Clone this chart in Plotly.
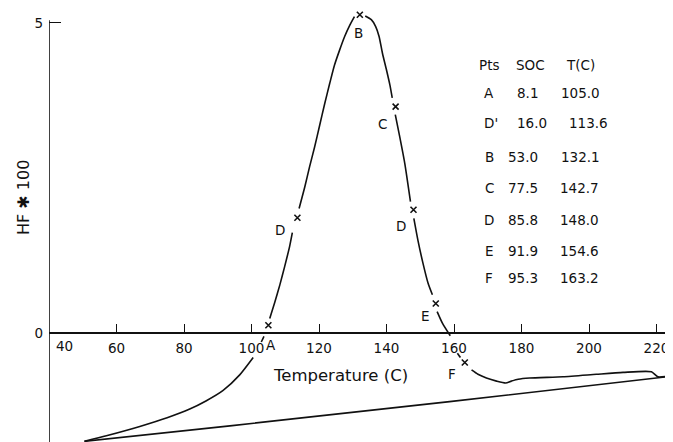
import plotly.graph_objects as go

# ---------------- data ----------------
# table of points (labels, state of charge, temperature)
pts = ["A", "D'", "B", "C", "D", "E", "F"]
soc = ["8.1", "16.0", "53.0", "77.5", "85.8", "91.9", "95.3"]
tc = ["105.0", "113.6", "132.1", "142.7", "148.0", "154.6", "163.2"]
table_header = ["Pts", "SOC", "T(C)"]

# marker points on the curve (HF*100)
marker_labels = ["A", "D", "B", "C", "D", "E", "F"]
marker_HF = [0.13, 1.86, 5.13, 3.65, 1.99, 0.48, -0.47]

# main heat-flow curve (None = pen lifted near markers)
curve_T = [50.5, 57.0, 66.9, 75.0, 81.7, 86.5, 91.6, 96.5, 100.5, None,
           102.9, 103.7, None,
           105.4, 106.9, 108.4, 109.8, 111.3, 112.1, None,
           114.1, 115.8, 117.2, 118.7, 120.2, 121.7, 123.2, 124.6, 126.1, 127.6, 129.1, 130.5, None,
           133.7, 135.5, 136.8, 137.8, 138.8, 140.0, 141.0, 141.7, None,
           142.6, 143.9, 145.4, 147.1, None,
           148.1, 149.3, 150.8, 152.3, 153.6, None,
           155.0, 156.6, 158.9, None,
           161.0, 161.9, None,
           165.2, 167.1, 169.6, 172.6, 175.3, 177.0, 179.0, 182.4, 192.3, 202.2, 210.1, 218.5, 220.4, 224.8]
curve_HF = [-1.74, -1.65, -1.50, -1.36, -1.22, -1.09, -0.92, -0.67, -0.39, None,
            -0.14, -0.05, None,
            0.24, 0.50, 0.78, 1.07, 1.40, 1.62, None,
            2.01, 2.36, 2.68, 3.00, 3.35, 3.70, 4.03, 4.32, 4.56, 4.78, 4.96, 5.10, None,
            5.11, 5.05, 4.94, 4.78, 4.51, 4.24, 4.00, 3.79, None,
            3.52, 3.17, 2.74, 2.12, None,
            1.85, 1.50, 1.13, 0.81, 0.62, None,
            0.35, 0.16, -0.04, None,
            -0.32, -0.39, None,
            -0.59, -0.66, -0.72, -0.77, -0.80, -0.77, -0.74, -0.72, -0.70, -0.66, -0.63, -0.62, -0.70, -0.68]

# return (baseline) line
base_T = [224.8, 158.7, 93.6, 50.5]
base_HF = [-0.69, -1.10, -1.49, -1.74]

x_ticks = [60, 80, 100, 120, 140, 160, 180, 200, 220]
y_ticks = [0, 5]

# ---------------- layout geometry ----------------
# the page body adds an 8 px offset; the figure is sized so that the
# plot area lands at x = 49..673, y = 0..442 of the window
OFF = 8
WIN_W, WIN_H = 673, 442
L_WIN = 49                      # y axis x position in window pixels
W, H = WIN_W - OFF, WIN_H - OFF
L = L_WIN - OFF
PX_PER_C = 3.375
PX_PER_HF = 62.1
Y0_WIN = 333.3                  # window pixel row of HF = 0
X_RANGE = [40, 40 + (W - L) / PX_PER_C]
Y_RANGE = [-(WIN_H - Y0_WIN) / PX_PER_HF, (Y0_WIN - OFF) / PX_PER_HF]
FONT = "DejaVu Sans"
INK = "#111111"


def px(x):  # window pixel x -> paper
    return (x - OFF - L) / (W - L)


def py(y):  # window pixel y -> paper
    return 1 - (y - OFF) / H


def text_at(x, y, txt, size, **kw):
    return dict(x=px(x), y=py(y), xref="paper", yref="paper", text=txt, showarrow=False,
                xanchor="center", yanchor="middle",
                font=dict(family=FONT, size=size, color=INK), **kw)


fig = go.Figure()

fig.add_trace(go.Scatter(x=base_T, y=base_HF, mode="lines",
                         line=dict(color=INK, width=1.6), hoverinfo="skip"))
fig.add_trace(go.Scatter(x=curve_T, y=curve_HF, mode="lines",
                         line=dict(color=INK, width=1.6, shape="spline", smoothing=0.6),
                         connectgaps=False, hoverinfo="skip"))
marker_T = [float(t) for t in tc]
fig.add_trace(go.Scatter(x=marker_T, y=marker_HF, mode="markers",
                         marker=dict(symbol="x-thin", size=6, line=dict(color=INK, width=1.6)),
                         hoverinfo="skip"))

annotations = []
# marker labels (pixel offsets from each marker)
label_shift = [(3, -20), (-17, -12), (-1, -18), (-13, -17), (-13, -16), (-10, -13), (-13, -12)]
for t, h, lab, (dx, dy) in zip(marker_T, marker_HF, marker_labels, label_shift):
    annotations.append(dict(x=t, y=h, xref="x", yref="y", text=lab, showarrow=False,
                            xanchor="center", yanchor="middle",
                            xshift=dx, yshift=dy, font=dict(family=FONT, size=13.5, color=INK)))

# table
header_y = 65
row_y = [93.3, 123.3, 156.7, 188.3, 220, 250.7, 278.3]
col_x_header = [489, 530, 580]
col_x_rows = [(489, 527, 580), (491, 532, 588), (489, 523, 580), (489, 523, 579),
              (489, 523, 579), (489, 523, 579), (489, 523, 579)]
for txt, cx in zip(table_header, col_x_header):
    annotations.append(text_at(cx, header_y, txt, 13.5))
for i in range(len(pts)):
    for txt, cx in zip((pts[i], soc[i], tc[i]), col_x_rows[i]):
        annotations.append(text_at(cx, row_y[i], txt, 13.5))

# "40" label (shifted right of the y axis), axis titles
annotations.append(text_at(64, 346, "40", 13.5))
annotations.append(text_at(340, 375, "Temperature (C)", 16.5))
annotations.append(text_at(23, 198, "HF ✱ 100", 16, textangle=-90))

fig.update_layout(
    width=W, height=H,
    margin=dict(l=L, r=0, t=0, b=0, pad=0),
    paper_bgcolor="white", plot_bgcolor="white",
    showlegend=False,
    annotations=annotations,
    shapes=[dict(type="line", xref="x", yref="y", x0=40, x1=40, y0=Y_RANGE[0], y1=5.04,
                 line=dict(color=INK, width=1.6))],
    xaxis=dict(range=X_RANGE, anchor="free",
               position=-Y_RANGE[0] / (Y_RANGE[1] - Y_RANGE[0]), automargin=False,
               showline=True, linecolor=INK, linewidth=1.6, showgrid=False, zeroline=False,
               tickmode="array", tickvals=x_ticks, ticks="inside", ticklen=9, tickwidth=1.3,
               tickcolor=INK, ticklabelstandoff=3,
               tickfont=dict(family=FONT, size=13.5, color=INK)),
    yaxis=dict(range=Y_RANGE, automargin=False, showline=False, showgrid=False, zeroline=False,
               tickmode="array", tickvals=y_ticks, ticks="inside", ticklen=12, tickwidth=1.3,
               tickcolor=INK, ticklabelstandoff=5,
               tickfont=dict(family=FONT, size=13.5, color=INK)),
)

fig.write_html("out.html")
